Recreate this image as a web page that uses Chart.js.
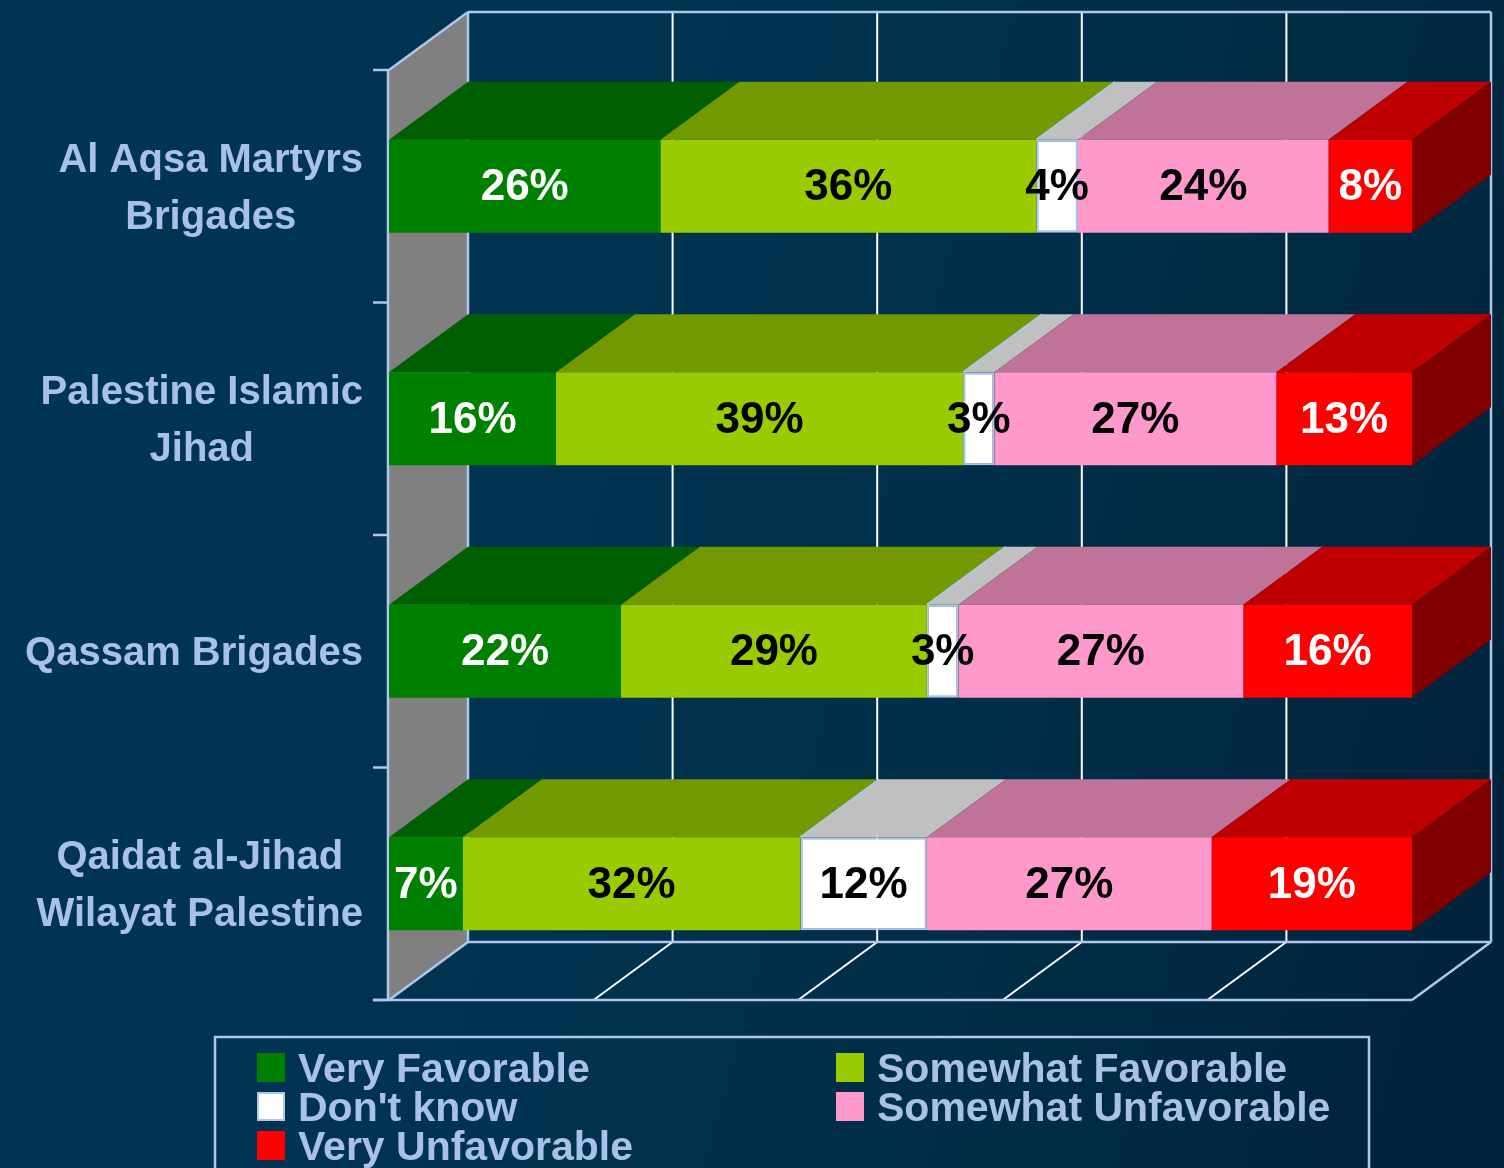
<!DOCTYPE html>
<html>
<head>
<meta charset="utf-8">
<title>Favorability of armed groups</title>
<script src="https://cdn.jsdelivr.net/npm/chart.js@4.4.0/dist/chart.umd.min.js"></script>
<style>
  html, body { margin: 0; padding: 0; }
  body {
    width: 1504px; height: 1168px; overflow: hidden;
    background: linear-gradient(105deg, #003654 0%, #00334f 45%, #012b45 75%, #01213a 100%);
  }
  canvas { display: block; }
</style>
</head>
<body>
<canvas id="favChart" width="1504" height="1168"></canvas>
<script>
// categories (multi-line labels)
const groups = [
  ['Al Aqsa Martyrs', 'Brigades'],
  ['Palestine Islamic', 'Jihad'],
  ['Qassam Brigades'],
  ['Qaidat al-Jihad', 'Wilayat Palestine']
];

// series values (percent, as printed on the bars)
const veryFavorable       = [26, 16, 22, 7];
const somewhatFavorable   = [36, 39, 29, 32];
const dontKnow            = [4, 3, 3, 12];
const somewhatUnfavorable = [24, 27, 27, 27];
const veryUnfavorable     = [8, 13, 16, 19];

const seriesNames = ['Very Favorable', 'Somewhat Favorable', "Don't know", 'Somewhat Unfavorable', 'Very Unfavorable'];
const xTicks = [0, 20, 40, 60, 80, 100];

const allSeries = [veryFavorable, somewhatFavorable, dontKnow, somewhatUnfavorable, veryUnfavorable];
const frontColors = ['#008000', '#99cc00', '#ffffff', '#ff99cc', '#ff0000'];
const topColors   = ['#005f00', '#739900', '#c0c0c0', '#bf7399', '#bf0000'];
const labelColors = ['#ffffff', '#000000', '#000000', '#000000', '#ffffff'];

const LINE = '#b0c6ea';
const TEXT = '#a9c1e6';
const DX = 79, DY = -58; // depth of the 3d box

// chart is a 100% stacked bar, so each row is scaled to its own total
let rowTotals = groups.map(function(g, i) {
  let s = 0;
  allSeries.forEach(function(arr) { s += arr[i]; });
  return s;
});

let datasets = allSeries.map(function(arr, k) {
  return {
    label: seriesNames[k],
    data: arr.map(function(v, i) { return v / rowTotals[i] * 100; }),
    raw: arr,
    backgroundColor: frontColors[k],
    borderColor: k === 2 ? LINE : frontColors[k],
    borderWidth: k === 2 ? 2 : 0,
    borderSkipped: false,
    categoryPercentage: 1,
    barPercentage: 0.4
  };
});

function line(ctx, x1, y1, x2, y2, color, w) {
  ctx.beginPath();
  ctx.moveTo(x1, y1);
  ctx.lineTo(x2, y2);
  ctx.strokeStyle = color;
  ctx.lineWidth = w;
  ctx.stroke();
}

function poly(ctx, pts, fill) {
  ctx.beginPath();
  ctx.moveTo(pts[0][0], pts[0][1]);
  for (let i = 1; i < pts.length; i++) ctx.lineTo(pts[i][0], pts[i][1]);
  ctx.closePath();
  ctx.fillStyle = fill;
  ctx.fill();
}

const box3d = {
  id: 'box3d',
  beforeDatasetsDraw(chart) {
    const ctx = chart.ctx;
    const a = chart.chartArea;
    const xs = chart.scales.x;
    const ys = chart.scales.y;
    ctx.save();

    // grey left wall
    poly(ctx, [[a.left, a.top], [a.left + DX, a.top + DY], [a.left + DX, a.bottom + DY], [a.left, a.bottom]], '#808080');

    // back wall grid + floor grid
    xTicks.forEach(function(t, i) {
      let fx = xs.getPixelForValue(t);
      let bx = fx + DX;
      let edge = (i === 0 || i === xTicks.length - 1);
      let col = edge ? LINE : '#ffffff';
      line(ctx, bx, a.top + DY, bx, a.bottom + DY, col, edge ? 2.5 : 2);
      line(ctx, bx, a.bottom + DY, fx, a.bottom, col, edge ? 2.5 : 2);
    });
    // frame
    line(ctx, a.left + DX, a.top + DY, a.right + DX, a.top + DY, LINE, 2.5);
    line(ctx, a.left + DX, a.bottom + DY, a.right + DX, a.bottom + DY, LINE, 2.5);
    line(ctx, a.left - 16, a.bottom, a.right, a.bottom, LINE, 2.5);
    line(ctx, a.left - 1, a.top, a.left - 1, a.bottom, LINE, 2.5);
    line(ctx, a.left, a.top, a.left + DX, a.top + DY, LINE, 2.5);

    // category ticks
    let band = (ys.getPixelForValue(1) - ys.getPixelForValue(0));
    for (let i = 0; i <= groups.length; i++) {
      let y = ys.getPixelForValue(0) - band / 2 + i * band;
      line(ctx, a.left - 16, y, a.left, y, LINE, 2.5);
    }

    // top faces and right side of the bars
    chart.data.datasets.forEach(function(ds, k) {
      chart.getDatasetMeta(k).data.forEach(function(el) {
        let p = el.getProps(['x', 'y', 'base', 'height'], true);
        let top = p.y - p.height / 2;
        let bot = p.y + p.height / 2;
        poly(ctx, [[p.base, top], [p.x, top], [p.x + DX, top + DY], [p.base + DX, top + DY]], topColors[k]);
        if (k === 2) {
          line(ctx, p.base, top, p.base + DX, top + DY, LINE, 2);
        }
        if (k === chart.data.datasets.length - 1) {
          poly(ctx, [[p.x, top], [p.x + DX, top + DY], [p.x + DX, bot + DY], [p.x, bot]], '#800000');
        }
      });
    });
    ctx.restore();
  },
  afterDatasetsDraw(chart) {
    const ctx = chart.ctx;
    ctx.save();
    ctx.font = 'bold 44px "Liberation Sans", Arial, sans-serif';
    ctx.textAlign = 'center';
    ctx.textBaseline = 'middle';
    chart.data.datasets.forEach(function(ds, k) {
      chart.getDatasetMeta(k).data.forEach(function(el, i) {
        let p = el.getProps(['x', 'y', 'base'], true);
        ctx.fillStyle = labelColors[k];
        ctx.fillText(ds.raw[i] + '%', (p.x + p.base) / 2, p.y + 2);
      });
    });
    ctx.restore();
  },
  afterDraw(chart) {
    const ctx = chart.ctx;
    const ys = chart.scales.y;
    ctx.save();

    // category labels: block right aligned, lines centred within the block
    ctx.font = 'bold 40px "Liberation Sans", Arial, sans-serif';
    ctx.fillStyle = TEXT;
    ctx.textAlign = 'center';
    ctx.textBaseline = 'middle';
    groups.forEach(function(lines, i) {
      let w = 0;
      lines.forEach(function(s) { w = Math.max(w, ctx.measureText(s).width); });
      let cx = 363 - w / 2;
      let cy = ys.getPixelForValue(i) + 3;
      let lh = 57;
      lines.forEach(function(s, j) {
        ctx.fillText(s, cx, cy + (j - (lines.length - 1) / 2) * lh);
      });
    });

    // legend
    ctx.strokeStyle = LINE;
    ctx.lineWidth = 2.5;
    ctx.strokeRect(215, 1037, 1154, 160);
    ctx.font = 'bold 41px "Liberation Sans", Arial, sans-serif';
    ctx.textAlign = 'left';
    ctx.textBaseline = 'alphabetic';
    chart.data.datasets.forEach(function(ds, k) {
      let col = k % 2, row = Math.floor(k / 2);
      let sx = col === 0 ? 257 : 836;
      let sy = 1053 + row * 39;
      ctx.fillStyle = ds.backgroundColor;
      ctx.fillRect(sx, sy, 28, 29);
      if (k === 2) {
        ctx.strokeStyle = LINE;
        ctx.lineWidth = 2;
        ctx.strokeRect(sx + 1, sy + 1, 26, 27);
      }
      ctx.fillStyle = TEXT;
      ctx.fillText(ds.label, sx + 41, sy + 29);
    });
    ctx.restore();
  }
};

const ctx = document.getElementById('favChart').getContext('2d');
const favChart = new Chart(ctx, {
  type: 'bar',
  data: {
    labels: groups,
    datasets: datasets
  },
  options: {
    responsive: false,
    animation: false,
    indexAxis: 'y',
    layout: { padding: { left: 389, top: 70, right: 92, bottom: 168 } },
    plugins: {
      legend: { display: false },
      tooltip: { enabled: false }
    },
    scales: {
      x: { stacked: true, min: 0, max: 100, display: false },
      y: { stacked: true, display: false }
    }
  },
  plugins: [box3d]
});
</script>
</body>
</html>
